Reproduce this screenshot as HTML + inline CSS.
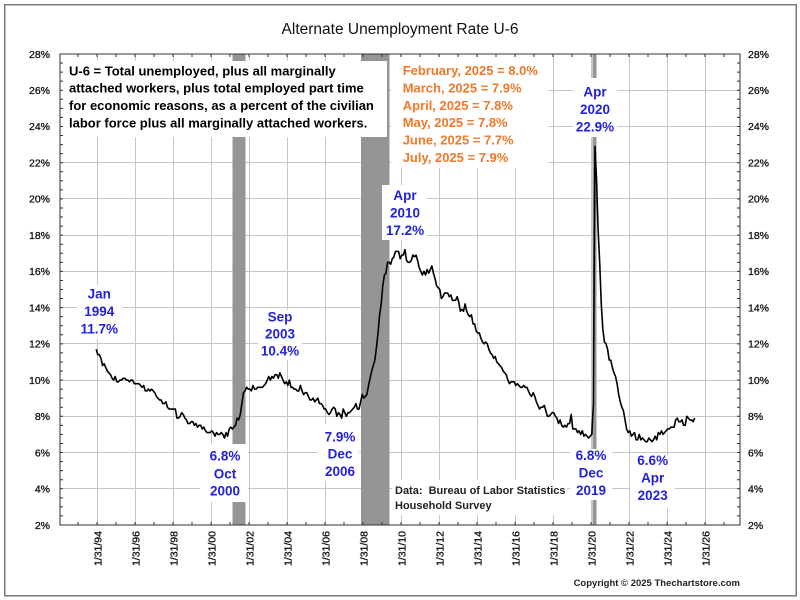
<!DOCTYPE html>
<html><head><meta charset="utf-8"><style>
html,body{margin:0;padding:0;background:#fff;}
svg{display:block;}
text{font-family:"Liberation Sans",Arial,sans-serif;}
.yl{font-size:10.5px;fill:#111;stroke:#111;stroke-width:0.3px;}
.xl{font-size:10.5px;fill:#111;stroke:#111;stroke-width:0.3px;}
.bl{font-size:13.5px;font-weight:bold;fill:#2222dd;text-anchor:middle;}
.or{font-size:13px;font-weight:bold;fill:#f07828;}
.bk{font-size:13px;font-weight:bold;fill:#000;}
</style></head><body>
<svg width="800" height="600" viewBox="0 0 800 600" xmlns="http://www.w3.org/2000/svg">
<rect x="0" y="0" width="800" height="600" fill="#fff"/>
<rect x="4.75" y="4.75" width="791.5" height="591" fill="none" stroke="#7a7a7a" stroke-width="1.5"/>
<text x="400" y="34" font-size="15.5" fill="#111" text-anchor="middle">Alternate Unemployment Rate U-6</text>

<!-- gridlines -->
<g stroke="#c6c6c6" stroke-width="1">
<line x1="60" x2="740" y1="90.5" y2="90.5"/>
<line x1="60" x2="740" y1="126.5" y2="126.5"/>
<line x1="60" x2="740" y1="162.5" y2="162.5"/>
<line x1="60" x2="740" y1="198.5" y2="198.5"/>
<line x1="60" x2="740" y1="235.5" y2="235.5"/>
<line x1="60" x2="740" y1="271.5" y2="271.5"/>
<line x1="60" x2="740" y1="307.5" y2="307.5"/>
<line x1="60" x2="740" y1="343.5" y2="343.5"/>
<line x1="60" x2="740" y1="380.5" y2="380.5"/>
<line x1="60" x2="740" y1="416.5" y2="416.5"/>
<line x1="60" x2="740" y1="452.5" y2="452.5"/>
<line x1="60" x2="740" y1="488.5" y2="488.5"/>
<line y1="54" y2="525" x1="97.5" x2="97.5"/>
<line y1="54" y2="525" x1="135.5" x2="135.5"/>
<line y1="54" y2="525" x1="173.5" x2="173.5"/>
<line y1="54" y2="525" x1="211.5" x2="211.5"/>
<line y1="54" y2="525" x1="249.5" x2="249.5"/>
<line y1="54" y2="525" x1="287.5" x2="287.5"/>
<line y1="54" y2="525" x1="325.5" x2="325.5"/>
<line y1="54" y2="525" x1="363.5" x2="363.5"/>
<line y1="54" y2="525" x1="401.5" x2="401.5"/>
<line y1="54" y2="525" x1="439.5" x2="439.5"/>
<line y1="54" y2="525" x1="477.5" x2="477.5"/>
<line y1="54" y2="525" x1="515.5" x2="515.5"/>
<line y1="54" y2="525" x1="553.5" x2="553.5"/>
<line y1="54" y2="525" x1="591.5" x2="591.5"/>
<line y1="54" y2="525" x1="629.5" x2="629.5"/>
<line y1="54" y2="525" x1="667.5" x2="667.5"/>
<line y1="54" y2="525" x1="705.5" x2="705.5"/>
</g>

<!-- recession bars -->
<g fill="#959595">
<rect x="232.5" y="54" width="13" height="471"/>
<rect x="361" y="54" width="28.5" height="471"/>
<rect x="592.5" y="54" width="4" height="471"/>
</g>

<!-- white label boxes -->
<g fill="#fff">
<rect x="60.5" y="61" width="326.5" height="76"/>
<rect x="391" y="57" width="157" height="111"/>
<rect x="382" y="185" width="45" height="55"/>
<rect x="573" y="78" width="44" height="59"/>
<rect x="77" y="285" width="45" height="54"/>
<rect x="258" y="310" width="44" height="50"/>
<rect x="200" y="444" width="48" height="58"/>
<rect x="318" y="424" width="41" height="57"/>
<rect x="570" y="449" width="42" height="51"/>
<rect x="630" y="455" width="45" height="53"/>
<rect x="392" y="480" width="175" height="35"/>
</g>

<!-- plot frame -->
<rect x="60" y="54" width="680" height="471" fill="none" stroke="#333" stroke-width="1"/>

<!-- ticks -->
<g stroke="#333" stroke-width="3" fill="none">
<line x1="61.5" y1="53.5" x2="61.5" y2="526" stroke-dasharray="1 8.0575"/>
<line x1="738.5" y1="53.5" x2="738.5" y2="526" stroke-dasharray="1 8.0575"/>
<line x1="77.5" y1="523.5" x2="726" y2="523.5" stroke-dasharray="1 18"/>
<line x1="77.5" y1="55.5" x2="726" y2="55.5" stroke-dasharray="1 18"/>
</g>

<!-- data -->
<polyline fill="none" stroke="#000" stroke-width="1.6" stroke-linejoin="round" vector-effect="non-scaling-stroke" transform="translate(96.2,561.2) scale(1.5833,-18.115)" points="0,11.7 1,11.4 2,11.4 3,11.2 4,10.8 5,10.9 6,10.7 7,10.5 8,10.4 9,10.3 10,10.1 11,10.0 12,10.2 13,9.9 14,9.9 15,10.0 16,10.0 17,10.1 18,10.1 19,10.0 20,10.0 21,9.9 22,10.0 23,10.0 24,9.8 25,9.8 26,9.8 27,9.8 28,9.7 29,9.6 30,9.7 31,9.4 32,9.4 33,9.5 34,9.4 35,9.5 36,9.4 37,9.3 38,9.1 39,9.0 40,8.9 41,8.9 42,8.7 43,8.7 44,8.8 45,8.5 46,8.4 47,8.4 48,8.4 49,8.4 50,8.4 51,7.9 52,7.9 53,8.0 54,8.2 55,8.1 56,7.9 57,7.8 58,7.6 59,7.6 60,7.7 61,7.7 62,7.5 63,7.6 64,7.4 65,7.5 66,7.5 67,7.3 68,7.4 69,7.2 70,7.1 71,7.1 72,7.1 73,7.2 74,7.1 75,6.9 76,7.1 77,7.0 78,7.0 79,7.1 80,7.0 81,6.8 82,7.1 83,6.9 84,7.3 85,7.4 86,7.3 87,7.4 88,7.5 89,7.9 90,7.8 91,8.1 92,8.7 93,9.3 94,9.4 95,9.6 96,9.5 97,9.5 98,9.4 99,9.7 100,9.5 101,9.5 102,9.6 103,9.6 104,9.6 105,9.6 106,9.7 107,9.8 108,10.0 109,10.2 110,10.0 111,10.2 112,10.1 113,10.3 114,10.3 115,10.1 116,10.4 117,10.2 118,10.0 119,9.8 120,9.9 121,9.7 122,10.0 123,9.6 124,9.6 125,9.5 126,9.5 127,9.4 128,9.4 129,9.7 130,9.4 131,9.2 132,9.3 133,9.3 134,9.1 135,8.9 136,8.9 137,9.0 138,8.8 139,8.9 140,9.0 141,8.7 142,8.7 143,8.6 144,8.4 145,8.4 146,8.2 147,8.1 148,8.2 149,8.4 150,8.5 151,8.4 152,8.0 153,8.2 154,8.1 155,7.9 156,8.4 157,8.2 158,8.0 159,8.2 160,8.2 161,8.3 162,8.4 163,8.5 164,8.7 165,8.4 166,8.4 167,8.8 168,9.2 169,9.0 170,9.1 171,9.2 172,9.7 173,10.1 174,10.5 175,10.8 176,11.1 177,11.8 178,12.6 179,13.6 180,14.2 181,15.2 182,15.8 183,15.9 184,16.5 185,16.5 186,16.4 187,16.7 188,16.8 189,17.1 190,17.1 191,17.1 192,16.7 193,16.9 194,16.9 195,17.2 196,16.6 197,16.5 198,16.5 199,16.6 200,16.9 201,16.8 202,16.9 203,16.6 204,16.2 205,16.0 206,15.8 207,16.0 208,15.8 209,16.1 210,15.9 211,16.1 212,16.3 213,15.9 214,15.6 215,15.2 216,15.1 217,15.0 218,14.5 219,14.6 220,14.8 221,14.8 222,14.8 223,14.6 224,14.7 225,14.4 226,14.4 227,14.4 228,14.6 229,14.3 230,13.8 231,13.9 232,13.8 233,14.2 234,13.8 235,13.6 236,13.5 237,13.6 238,13.1 239,13.1 240,12.7 241,12.6 242,12.6 243,12.3 244,12.1 245,12.0 246,12.1 247,12.0 248,11.7 249,11.5 250,11.4 251,11.2 252,11.3 253,11.0 254,10.9 255,10.8 256,10.7 257,10.5 258,10.4 259,10.3 260,10.0 261,9.8 262,9.9 263,9.9 264,9.9 265,9.7 266,9.8 267,9.7 268,9.6 269,9.6 270,9.7 271,9.6 272,9.6 273,9.4 274,9.2 275,9.1 276,9.3 277,9.1 278,8.8 279,8.6 280,8.4 281,8.5 282,8.5 283,8.6 284,8.3 285,8.0 286,8.0 287,8.1 288,8.2 289,8.2 290,8.0 291,7.9 292,7.6 293,7.8 294,7.5 295,7.4 296,7.5 297,7.4 298,7.6 299,7.6 300,8.1 301,7.3 302,7.3 303,7.3 304,7.1 305,7.2 306,7.0 307,7.2 308,6.9 309,7.0 310,6.9 311,6.8 312,6.9 313,7.0 314,8.7 315,22.9 316,21.1 317,18.3 318,16.5 319,14.2 320,12.8 321,12.1 322,12.0 323,11.7 324,11.1 325,11.1 326,10.7 327,10.4 328,10.2 329,9.8 330,9.2 331,8.8 332,8.5 333,8.3 334,7.8 335,7.3 336,7.1 337,7.2 338,6.9 339,7.0 340,7.1 341,6.7 342,6.7 343,7.0 344,6.7 345,6.8 346,6.7 347,6.6 348,6.6 349,6.8 350,6.7 351,6.6 352,6.7 353,6.9 354,6.7 355,7.1 356,7.0 357,7.2 358,7.0 359,7.1 360,7.2 361,7.3 362,7.3 363,7.4 364,7.4 365,7.4 366,7.8 367,7.9 368,7.7 369,7.7 370,7.8 371,7.5 372,7.5 373,8.0 374,7.9 375,7.8 376,7.8 377,7.7 378,7.9"/>

<!-- y labels left -->
<g text-anchor="end">
<text class="yl" x="50" y="58">28%</text>
<text class="yl" x="50" y="94">26%</text>
<text class="yl" x="50" y="130">24%</text>
<text class="yl" x="50" y="166.5">22%</text>
<text class="yl" x="50" y="202.5">20%</text>
<text class="yl" x="50" y="239">18%</text>
<text class="yl" x="50" y="275">16%</text>
<text class="yl" x="50" y="311.5">14%</text>
<text class="yl" x="50" y="347.5">12%</text>
<text class="yl" x="50" y="384">10%</text>
<text class="yl" x="50" y="420">8%</text>
<text class="yl" x="50" y="456.5">6%</text>
<text class="yl" x="50" y="492.5">4%</text>
<text class="yl" x="50" y="529">2%</text>
</g>
<!-- y labels right -->
<g>
<text class="yl" x="748" y="58">28%</text>
<text class="yl" x="748" y="94">26%</text>
<text class="yl" x="748" y="130">24%</text>
<text class="yl" x="748" y="166.5">22%</text>
<text class="yl" x="748" y="202.5">20%</text>
<text class="yl" x="748" y="239">18%</text>
<text class="yl" x="748" y="275">16%</text>
<text class="yl" x="748" y="311.5">14%</text>
<text class="yl" x="748" y="347.5">12%</text>
<text class="yl" x="748" y="384">10%</text>
<text class="yl" x="748" y="420">8%</text>
<text class="yl" x="748" y="456.5">6%</text>
<text class="yl" x="748" y="492.5">4%</text>
<text class="yl" x="748" y="529">2%</text>
</g>

<!-- x labels -->
<g text-anchor="end">
<text class="xl" transform="translate(101.5,531) rotate(-90)">1/31/94</text>
<text class="xl" transform="translate(139.5,531) rotate(-90)">1/31/96</text>
<text class="xl" transform="translate(177.5,531) rotate(-90)">1/31/98</text>
<text class="xl" transform="translate(215.5,531) rotate(-90)">1/31/00</text>
<text class="xl" transform="translate(253.5,531) rotate(-90)">1/31/02</text>
<text class="xl" transform="translate(291.5,531) rotate(-90)">1/31/04</text>
<text class="xl" transform="translate(329.5,531) rotate(-90)">1/31/06</text>
<text class="xl" transform="translate(367.5,531) rotate(-90)">1/31/08</text>
<text class="xl" transform="translate(405.5,531) rotate(-90)">1/31/10</text>
<text class="xl" transform="translate(443.5,531) rotate(-90)">1/31/12</text>
<text class="xl" transform="translate(481.5,531) rotate(-90)">1/31/14</text>
<text class="xl" transform="translate(519.5,531) rotate(-90)">1/31/16</text>
<text class="xl" transform="translate(557.5,531) rotate(-90)">1/31/18</text>
<text class="xl" transform="translate(595.5,531) rotate(-90)">1/31/20</text>
<text class="xl" transform="translate(633.5,531) rotate(-90)">1/31/22</text>
<text class="xl" transform="translate(671.5,531) rotate(-90)">1/31/24</text>
<text class="xl" transform="translate(709.5,531) rotate(-90)">1/31/26</text>
</g>

<!-- definition text -->
<text class="bk" x="69" y="75.3">U-6 = Total unemployed, plus all marginally</text>
<text class="bk" x="69" y="92.7">attached workers, plus total employed part time</text>
<text class="bk" x="69" y="110">for economic reasons, as a percent of the civilian</text>
<text class="bk" x="69" y="127.3">labor force plus all marginally attached workers.</text>

<!-- orange -->
<text class="or" x="402.7" y="75">February, 2025 = 8.0%</text>
<text class="or" x="402.7" y="92.4">March, 2025 = 7.9%</text>
<text class="or" x="402.7" y="109.8">April, 2025 = 7.8%</text>
<text class="or" x="402.7" y="127.2">May, 2025 = 7.8%</text>
<text class="or" x="402.7" y="144.6">June, 2025 = 7.7%</text>
<text class="or" x="402.7" y="162">July, 2025 = 7.9%</text>

<!-- blue annotations -->
<text class="bl" x="99.3" y="298.3">Jan</text>
<text class="bl" x="99.3" y="316">1994</text>
<text class="bl" x="99.3" y="333.5">11.7%</text>

<text class="bl" x="280" y="321.7">Sep</text>
<text class="bl" x="280" y="338.5">2003</text>
<text class="bl" x="280" y="355.7">10.4%</text>

<text class="bl" x="405" y="200">Apr</text>
<text class="bl" x="405" y="217.5">2010</text>
<text class="bl" x="405" y="235">17.2%</text>

<text class="bl" x="595" y="96.5">Apr</text>
<text class="bl" x="595" y="114">2020</text>
<text class="bl" x="595" y="131.5">22.9%</text>

<text class="bl" x="225" y="460.7">6.8%</text>
<text class="bl" x="225" y="478.3">Oct</text>
<text class="bl" x="225" y="495.7">2000</text>

<text class="bl" x="340" y="441.7">7.9%</text>
<text class="bl" x="340" y="458.7">Dec</text>
<text class="bl" x="340" y="476">2006</text>

<text class="bl" x="591" y="460">6.8%</text>
<text class="bl" x="591" y="477.5">Dec</text>
<text class="bl" x="591" y="495">2019</text>

<text class="bl" x="652.7" y="465">6.6%</text>
<text class="bl" x="652.7" y="482.5">Apr</text>
<text class="bl" x="652.7" y="500">2023</text>

<!-- source -->
<text x="395" y="494" font-size="11" font-weight="bold" fill="#222" xml:space="preserve">Data:  Bureau of Labor Statistics</text>
<text x="395" y="509" font-size="11" font-weight="bold" fill="#222">Household Survey</text>

<text x="740" y="586" font-size="9.5" font-weight="bold" fill="#222" text-anchor="end">Copyright © 2025 Thechartstore.com</text>
</svg>
</body></html>
